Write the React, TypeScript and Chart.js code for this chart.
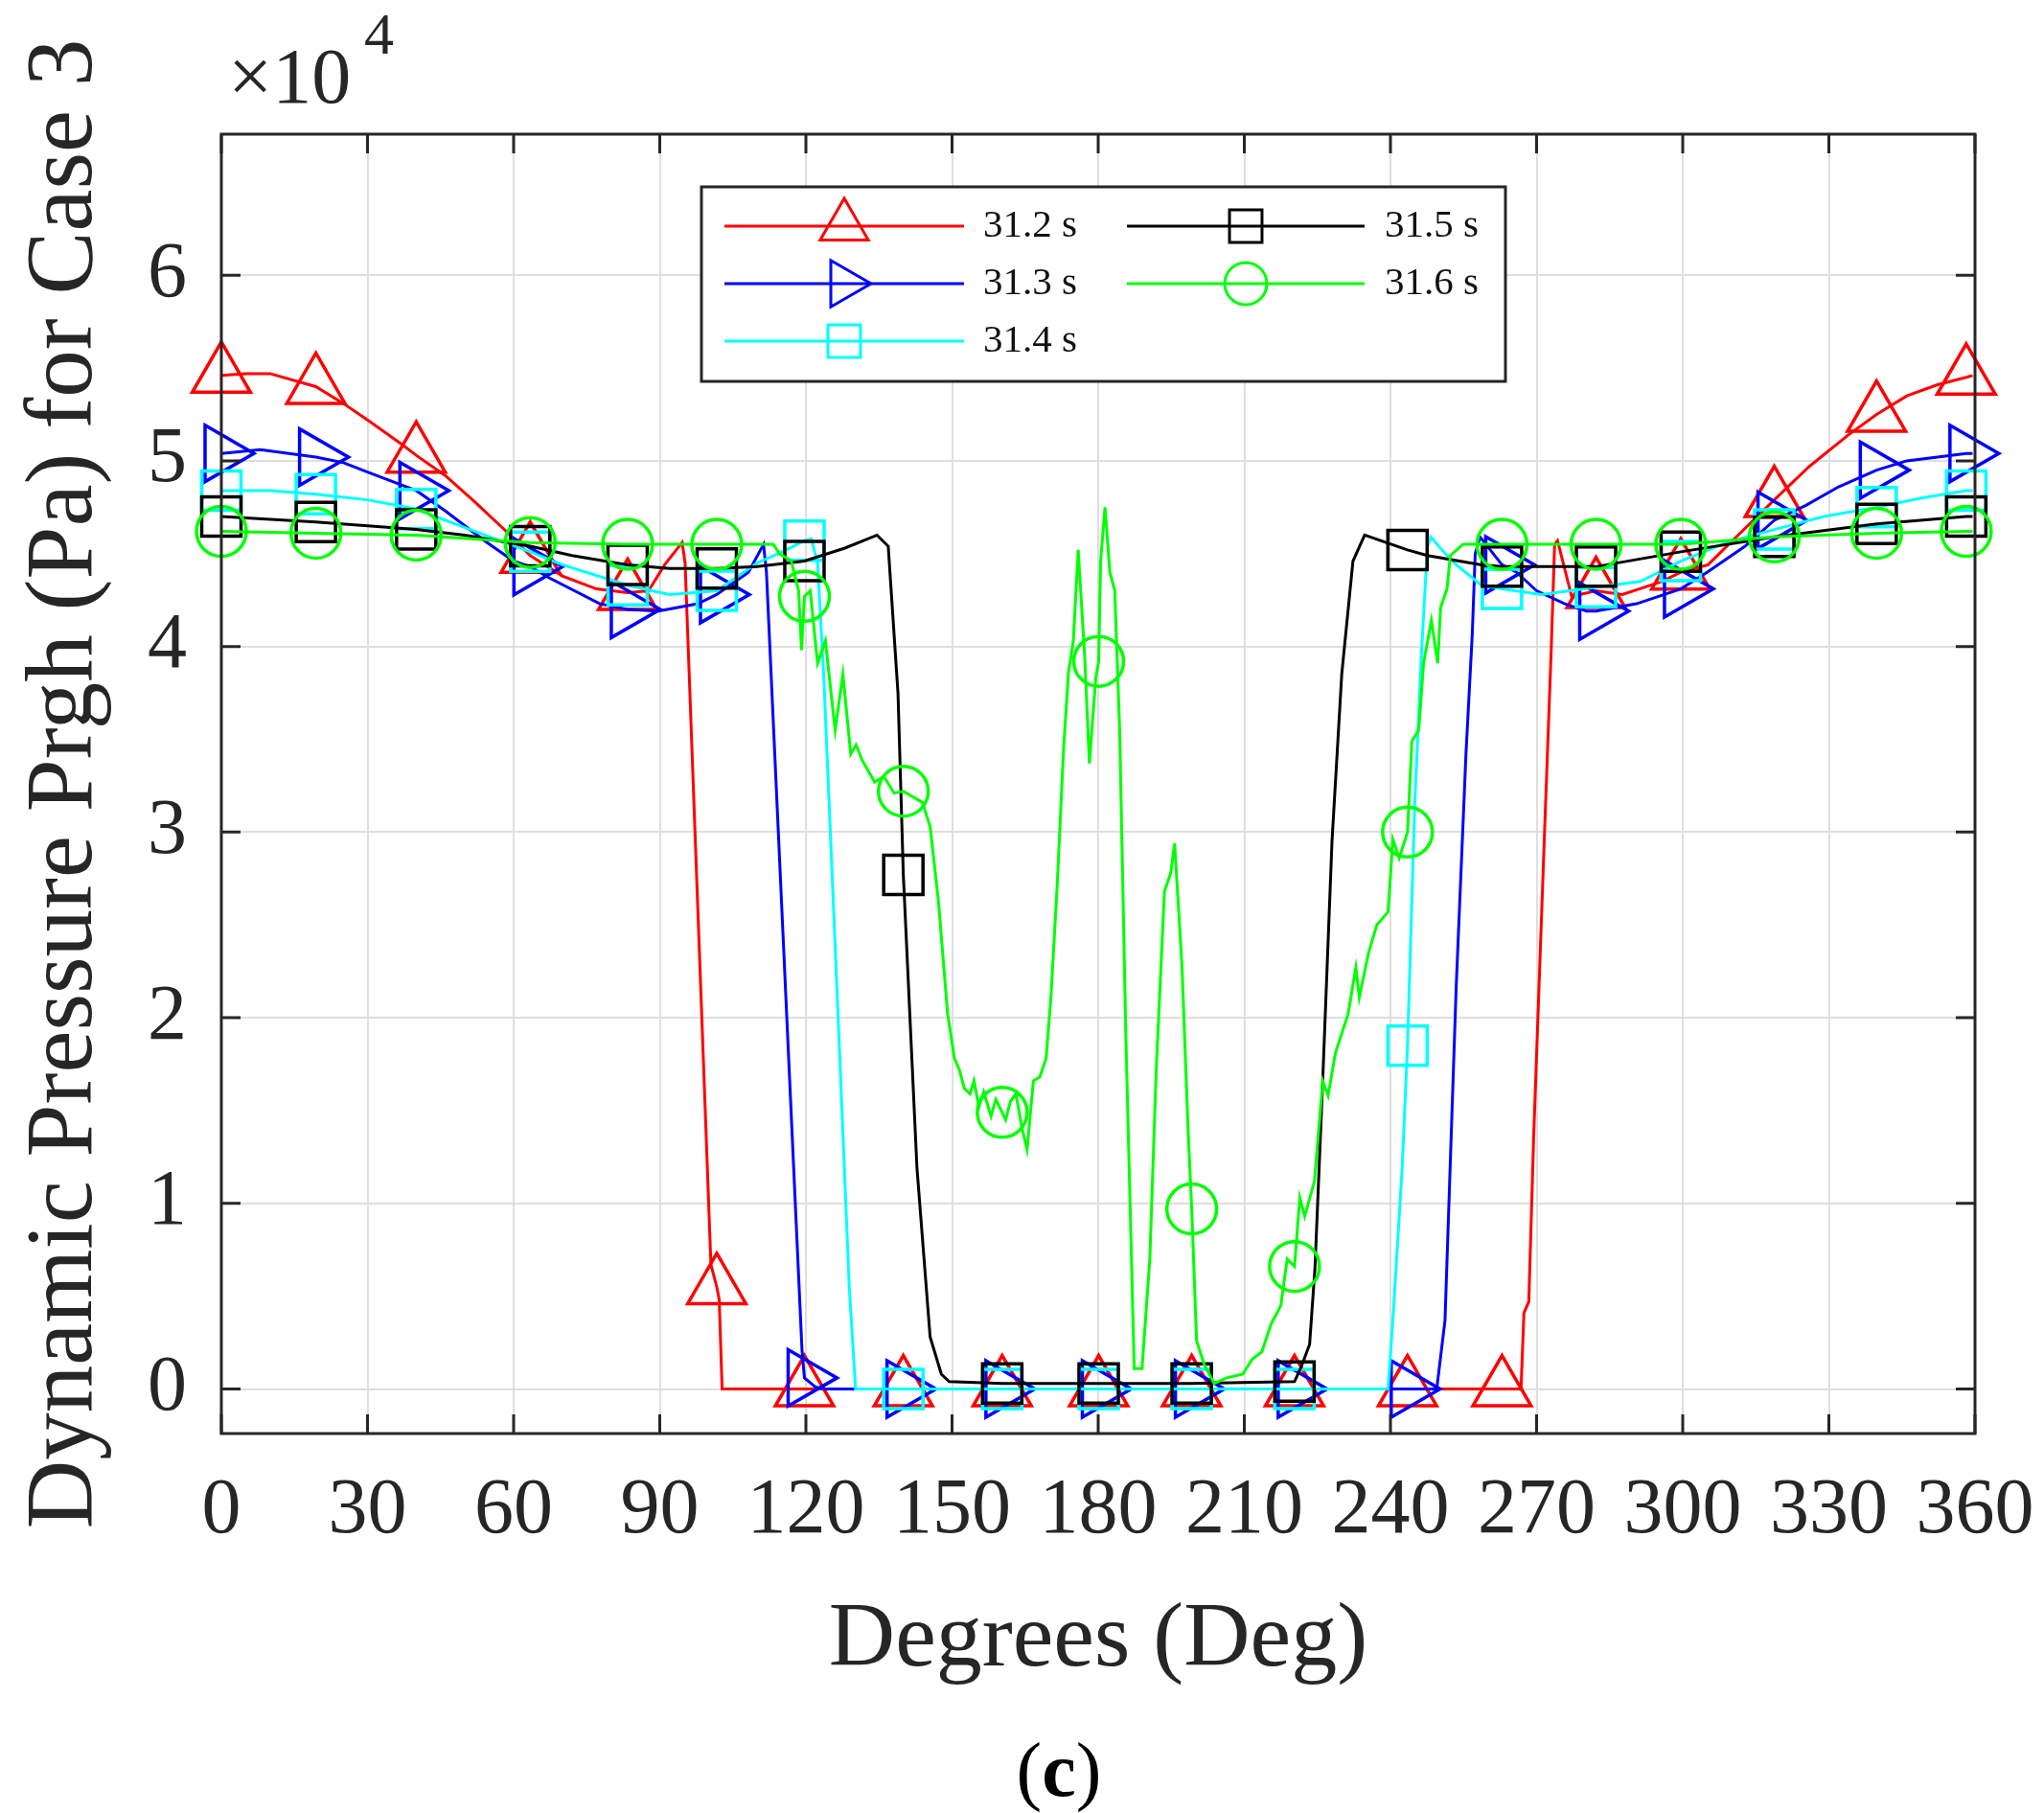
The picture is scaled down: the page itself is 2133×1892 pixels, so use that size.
import React, { useEffect, useRef } from "react";
import { Chart, registerables } from "chart.js";
import { drawPoint } from "chart.js/helpers";

Chart.register(...registerables);

// pressure values are in units of 10^4 Pa (axis multiplier)
const xTicks = [0, 30, 60, 90, 120, 150, 180, 210, 240, 270, 300, 330, 360];
const yTicks = [0, 1, 2, 3, 4, 5, 6];

// degrees where the markers sit
const markerDeg = [0, 19.4, 40, 63.4, 83.4, 101.7, 119.7, 140, 160.3, 180.1, 199.2, 220.3, 243.5, 262.9, 282.2, 299.6, 318.8, 339.8, 358.2];

const seriesLabels = ["31.2 s", "31.3 s", "31.4 s", "31.5 s", "31.6 s"];

const t312: [number, number][] = [
  [0, 5.46], [5, 5.47], [10, 5.47], [19.4, 5.4], [25, 5.31], [30, 5.22], [37, 5.09], [40, 5.03], [46, 4.92],
  [52, 4.78], [58.9, 4.61], [63.4, 4.49], [70, 4.38], [77, 4.31], [83.4, 4.29], [87.7, 4.3], [91, 4.44],
  [94.6, 4.56], [95.2, 4.45], [100.5, 0.67], [101.7, 0.55], [102.2, 0.48], [102.8, 0], [119.7, 0], [140, 0],
  [160.3, 0], [180.1, 0], [199.2, 0], [220.3, 0], [243.5, 0], [262.9, 0], [266.8, 0], [267.4, 0.41],
  [268.4, 0.47], [269.4, 1.36], [271.4, 2.83], [273, 3.98], [273.7, 4.55], [274.3, 4.57], [277.2, 4.27],
  [282.2, 4.3], [287.6, 4.28], [295.7, 4.35], [299.6, 4.4], [305.2, 4.44], [310.6, 4.58], [318.8, 4.79],
  [326, 4.97], [334, 5.14], [339.8, 5.25], [346, 5.35], [352.3, 5.41], [358.2, 5.45], [359.5, 5.46],
];

const t313: [number, number][] = [
  [0, 5.04], [8, 5.06], [19.4, 5.02], [25.1, 4.99], [30, 4.94], [37, 4.87], [40, 4.84], [46, 4.73], [54, 4.57],
  [60, 4.46], [63.4, 4.43], [67.3, 4.37], [77.7, 4.23], [83.4, 4.2], [89.7, 4.19], [97.8, 4.23], [101.7, 4.28],
  [108.2, 4.4], [111.3, 4.55], [111.9, 4.4], [119.2, 0.21], [119.7, 0.06], [122, 0.01], [124, 0], [140, 0],
  [160.3, 0], [180.1, 0], [199.2, 0], [220.3, 0], [243.5, 0], [249.5, 0], [251.2, 0.37], [253.5, 2.17],
  [255.5, 3.42], [256.8, 4.07], [257.4, 4.5], [258.4, 4.59], [262.9, 4.44], [265.9, 4.4], [270, 4.3],
  [275.8, 4.23], [280.3, 4.19], [282.2, 4.19], [290.5, 4.23], [299.6, 4.31], [305, 4.4], [312.8, 4.54],
  [318.8, 4.68], [325.3, 4.76], [332, 4.86], [339.8, 4.95], [346, 5.0], [352.3, 5.02], [358.2, 5.04], [359.5, 5.04],
];

const t314: [number, number][] = [
  [0, 4.84], [10, 4.84], [19.4, 4.82], [30, 4.79], [40, 4.74], [50, 4.64], [63.4, 4.51], [70, 4.44], [83.4, 4.33],
  [92, 4.28], [101.7, 4.3], [110, 4.45], [116, 4.52], [119.7, 4.57], [121.1, 4.58], [122.4, 4.45], [123.7, 3.82],
  [126.3, 2.2], [128.9, 0.55], [130.2, 0], [140, 0], [160.3, 0], [180.1, 0], [199.2, 0], [220.3, 0], [239.5, 0],
  [240.5, 0.37], [242.4, 1.19], [243.5, 1.85], [245, 3.16], [246.4, 3.98], [247.6, 4.54], [248.3, 4.59],
  [250.9, 4.51], [253.5, 4.44], [258.7, 4.33], [262.9, 4.31], [271, 4.28], [282.2, 4.32], [291.3, 4.35],
  [299.6, 4.46], [309, 4.56], [318.8, 4.63], [329, 4.7], [339.8, 4.75], [349, 4.8], [358.2, 4.84], [359.5, 4.84],
];

const t315: [number, number][] = [
  [0, 4.7], [19.4, 4.67], [40, 4.63], [50, 4.6], [63.4, 4.54], [72, 4.49], [83.4, 4.44], [92, 4.42], [101.7, 4.42],
  [110, 4.43], [119.7, 4.46], [128, 4.53], [134.6, 4.6], [136.9, 4.54], [138.9, 3.75], [140, 2.77], [142.8, 1.19],
  [145.5, 0.28], [147.8, 0.08], [149.4, 0.04], [160.3, 0.03], [180.1, 0.03], [199.2, 0.03], [220.3, 0.04],
  [221.7, 0.12], [223.4, 0.24], [224.5, 0.65], [226, 1.6], [228, 2.95], [230, 3.85], [232.3, 4.46], [234.7, 4.6],
  [243.5, 4.52], [247.6, 4.49], [258.7, 4.44], [262.9, 4.43], [282.2, 4.43], [299.6, 4.51], [318.8, 4.59],
  [339.8, 4.66], [358.2, 4.7], [359.5, 4.7],
];

const t316: [number, number][] = [
  [0, 4.62], [19.4, 4.61], [40, 4.6], [63.4, 4.56], [83.4, 4.55], [101.7, 4.55], [113.3, 4.55], [114.6, 4.5],
  [117, 4.46], [118.5, 4.3], [119.1, 3.98], [119.7, 4.27], [120.9, 4.3], [121.5, 4.14], [122.4, 3.91], [124, 4.03],
  [126, 3.55], [127.6, 3.85], [129.2, 3.42], [130.3, 3.47], [131.5, 3.39], [134.1, 3.27], [136, 3.3], [138.1, 3.21],
  [140, 3.22], [143.9, 3.16], [145.5, 3.03], [147.2, 2.63], [149.1, 2.02], [150.5, 1.78], [151.5, 1.72],
  [152.5, 1.62], [153.7, 1.59], [154.5, 1.66], [155.5, 1.52], [156.5, 1.6], [158, 1.47], [159, 1.56], [160.3, 1.49],
  [161, 1.45], [162, 1.55], [163.1, 1.59], [164.4, 1.4], [165.4, 1.29], [166.7, 1.66], [168, 1.68], [169.3, 1.78],
  [170.3, 2.11], [171.6, 2.72], [172.9, 3.45], [173.9, 3.86], [174.9, 4.03], [175.9, 4.52], [177.2, 3.96],
  [178.2, 3.37], [179.5, 3.83], [180.1, 3.92], [180.5, 4.46], [181.4, 4.75], [182.4, 4.4], [183.4, 4.3],
  [184.4, 3.56], [185.7, 1.88], [187.4, 0.11], [189, 0.11], [190.6, 0.7], [191.9, 1.71], [193.6, 2.68],
  [194.9, 2.78], [195.7, 2.94], [197.2, 2.28], [198.5, 1.37], [199.2, 0.97], [200.2, 0.26], [201.8, 0.13],
  [203.8, 0.03], [206.4, 0.06], [209.7, 0.08], [211.6, 0.16], [213.6, 0.2], [215.5, 0.35], [217.5, 0.45],
  [218.8, 0.7], [220.3, 0.66], [221.4, 1.03], [222.4, 0.93], [224.4, 1.12], [226.1, 1.66], [227.2, 1.58],
  [228.7, 1.81], [231.3, 2.02], [232.9, 2.27], [233.6, 2.11], [235.5, 2.35], [237.2, 2.5], [239.5, 2.57],
  [240.5, 2.96], [241.8, 2.86], [243.5, 3.0], [244.4, 3.49], [245.8, 3.55], [246.8, 3.91], [248.4, 4.14],
  [249.7, 3.91], [250.3, 4.21], [251.6, 4.31], [252.3, 4.49], [254.9, 4.55], [262.9, 4.55], [282.2, 4.55],
  [299.6, 4.55], [318.8, 4.59], [339.8, 4.61], [358.2, 4.62], [359.5, 4.62],
];

const seriesData = [t312, t313, t314, t315, t316];

const FONT = "'Liberation Serif', 'Times New Roman', serif";
const INK = "#262626";

const styles = [
  { color: "#ff0000", shape: "triangle", rot: 0, r: 35, lr: 29 },
  { color: "#0000ff", shape: "triangle", rot: 90, r: 34, lr: 28 },
  { color: "#00ffff", shape: "rect", rot: 0, r: 29, lr: 24 },
  { color: "#000000", shape: "rect", rot: 0, r: 29, lr: 24 },
  { color: "#00ff00", shape: "circle", rot: 0, r: 26, lr: 22 },
];

const isMarker = (x: number) => markerDeg.some((m) => Math.abs(m - x) < 0.05);

const framePlugin = {
  id: "frame",
  afterDatasetsDraw(chart: any) {
    const { ctx, chartArea: a, scales } = chart;
    ctx.save();
    ctx.strokeStyle = INK;
    ctx.lineWidth = 3;
    ctx.beginPath();
    xTicks.forEach((v) => {
      const p = scales.x.getPixelForValue(v);
      ctx.moveTo(p, a.bottom);
      ctx.lineTo(p, a.bottom - 20);
      ctx.moveTo(p, a.top);
      ctx.lineTo(p, a.top + 20);
    });
    yTicks.forEach((v) => {
      const p = scales.y.getPixelForValue(v);
      ctx.moveTo(a.left, p);
      ctx.lineTo(a.left + 20, p);
      ctx.moveTo(a.right, p);
      ctx.lineTo(a.right - 20, p);
    });
    ctx.stroke();
    ctx.strokeRect(a.left, a.top, a.right - a.left, a.bottom - a.top);

    // legend box
    ctx.fillStyle = "#ffffff";
    ctx.fillRect(732, 195, 839, 203);
    ctx.strokeStyle = INK;
    ctx.lineWidth = 3;
    ctx.strokeRect(732, 195, 839, 203);
    const rowY = [236, 296, 356];
    const lineX0 = [756, 1176];
    const lineX1 = [1006, 1424];
    const markX = [881, 1300];
    const textX = [1026, 1445];
    ctx.font = `41px ${FONT}`;
    ctx.textBaseline = "middle";
    ctx.textAlign = "left";
    seriesLabels.forEach((label, i) => {
      const col = i < 3 ? 0 : 1;
      const y = rowY[i < 3 ? i : i - 3];
      const s = styles[i];
      ctx.strokeStyle = s.color;
      ctx.lineWidth = 3;
      ctx.beginPath();
      ctx.moveTo(lineX0[col], y);
      ctx.lineTo(lineX1[col], y);
      ctx.stroke();
      ctx.fillStyle = "rgba(0,0,0,0)";
      ctx.lineWidth = 3;
      drawPoint(ctx, { pointStyle: s.shape, rotation: s.rot, radius: s.lr, borderWidth: 3 } as any, markX[col], y);
      ctx.fillStyle = "#111111";
      ctx.fillText(label, textX[col], y);
    });
    ctx.restore();
  },
  afterDraw(chart: any) {
    const { ctx } = chart;
    ctx.save();
    ctx.fillStyle = INK;
    ctx.textBaseline = "alphabetic";
    ctx.textAlign = "left";
    ctx.font = `82px ${FONT}`;
    ctx.fillText("\u00d710", 238, 107);
    ctx.font = `62px ${FONT}`;
    ctx.fillText("4", 380, 56);
    // panel label
    ctx.fillStyle = "#000000";
    ctx.font = `80px ${FONT}`;
    const wp = ctx.measureText("(").width;
    ctx.font = `bold 80px ${FONT}`;
    const wc = ctx.measureText("c").width;
    const x0 = 1105 - (wp * 2 + wc) / 2;
    ctx.font = `80px ${FONT}`;
    ctx.fillText("(", x0, 1874);
    ctx.fillText(")", x0 + wp + wc, 1874);
    ctx.font = `bold 80px ${FONT}`;
    ctx.fillText("c", x0 + wp, 1874);
    ctx.restore();
  },
};

const App: React.FC = () => {
  const canvasRef = useRef<HTMLCanvasElement | null>(null);

  useEffect(() => {
    document.body.style.margin = "0";
    const ctx = canvasRef.current?.getContext("2d");
    if (!ctx) return;

    const chart = new Chart(ctx, {
      type: "line",
      data: {
        datasets: seriesData.map((pairs, i) => ({
          label: seriesLabels[i],
          data: pairs.map(([x, y]) => ({ x, y })),
          borderColor: styles[i].color,
          borderWidth: 3,
          tension: 0,
          pointStyle: styles[i].shape,
          pointRotation: styles[i].rot,
          pointRadius: (c: any) => (c.raw && isMarker(c.raw.x) ? styles[i].r : 0),
          pointBorderWidth: 3.5,
          pointBorderColor: styles[i].color,
          pointBackgroundColor: "rgba(0,0,0,0)",
          clip: false,
          order: 5 - i,
        })),
      },
      options: {
        responsive: false,
        devicePixelRatio: 1,
        animation: false,
        events: [],
        layout: { padding: { top: 140, right: 72, left: 0, bottom: 0 } },
        plugins: {
          legend: { display: false },
          tooltip: { enabled: false },
          title: { display: false },
        },
        scales: {
          x: {
            type: "linear",
            min: 0,
            max: 360,
            afterBuildTicks: (s: any) => {
              s.ticks = xTicks.map((v) => ({ value: v }));
            },
            afterFit: (s: any) => {
              s.height = 396;
              s.paddingLeft = 0;
              s.paddingRight = 0;
            },
            ticks: {
              padding: 32,
              maxRotation: 0,
              autoSkip: false,
              color: INK,
              font: { size: 82, family: FONT },
            },
            grid: { color: "#dfdfdf", lineWidth: 2, drawTicks: false },
            border: { display: false },
            title: {
              display: true,
              text: "Degrees (Deg)",
              color: INK,
              font: { size: 96, family: FONT },
              padding: { top: 0, bottom: 122 },
            },
          },
          y: {
            type: "linear",
            min: -0.24,
            max: 6.76,
            afterBuildTicks: (s: any) => {
              s.ticks = yTicks.map((v) => ({ value: v }));
            },
            afterFit: (s: any) => {
              s.width = 231;
              s.paddingTop = 0;
              s.paddingBottom = 0;
            },
            ticks: {
              padding: 36,
              color: INK,
              font: { size: 82, family: FONT },
              callback: (v: any) => String(v),
            },
            grid: { color: "#dfdfdf", lineWidth: 2, drawTicks: false },
            border: { display: false },
            title: {
              display: true,
              text: "Dynamic Pressure Prgh (Pa) for Case 3",
              color: INK,
              font: { size: 99, family: FONT },
              padding: { top: 10, bottom: 0 },
            },
          },
        },
      },
      plugins: [framePlugin],
    } as any);

    return () => {
      chart.destroy();
    };
  }, []);

  return (
    <div style={{ position: "absolute", left: 0, top: 0, width: 2133, height: 1892, background: "#ffffff" }}>
      <canvas ref={canvasRef} width={2133} height={1892} style={{ width: 2133, height: 1892 }}></canvas>
    </div>
  );
};

export default App;
